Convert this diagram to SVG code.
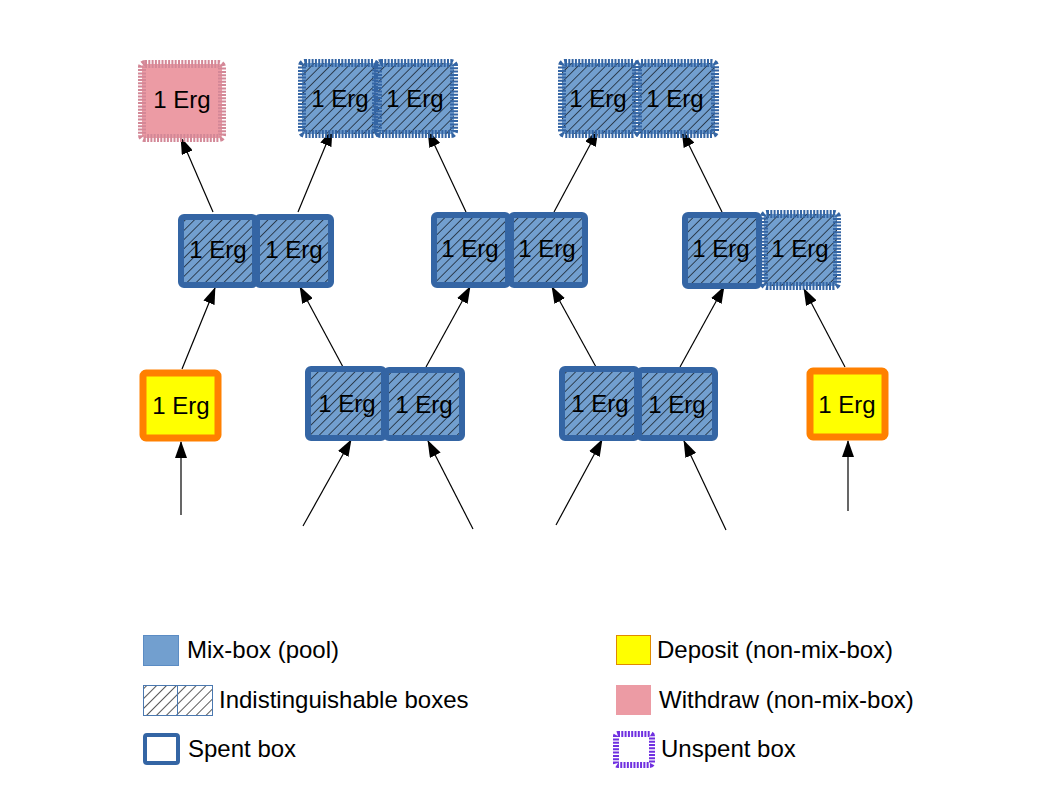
<svg xmlns="http://www.w3.org/2000/svg" width="1058" height="794" viewBox="0 0 1058 794">
<style>
.t{font-family:"Liberation Sans",Arial,sans-serif;font-size:24px;fill:#000;text-anchor:middle}
.lt{font-family:"Liberation Sans",Arial,sans-serif;font-size:24px;fill:#000}
.spent{stroke:#3465a4;stroke-width:6;fill:url(#hatch)}
.unsp{stroke:#3465a4;stroke-width:8;stroke-dasharray:2 1.3;fill:url(#hatch)}
.wd{stroke:#d38897;stroke-width:8;stroke-dasharray:2 1.3;fill:#ec9ba4}
.dep{stroke:#ff8000;stroke-width:7;fill:#ffff00}
.c line{stroke:#000;stroke-width:1.2;marker-end:url(#ah)}
</style>
<defs>
<pattern id="hl" width="7" height="7" patternUnits="userSpaceOnUse" patternTransform="rotate(45)">
<line x1="0" y1="0" x2="0" y2="7" stroke="#000" stroke-width="1.3"/>
</pattern>
<pattern id="hatch" width="6.5" height="6.5" patternUnits="userSpaceOnUse" patternTransform="rotate(45)">
<rect width="6.5" height="6.5" fill="#729fcf"/>
<line x1="0" y1="0" x2="0" y2="6.5" stroke="#000" stroke-width="1.2"/>
</pattern>
<marker id="ah" markerWidth="17" markerHeight="12" refX="16" refY="6" orient="auto" markerUnits="userSpaceOnUse">
<path d="M0,0 L17,6 L0,12 z" fill="#000"/>
</marker>
</defs>
<rect width="1058" height="794" fill="#fff"/>

<g class="c" id="connectors">
<line x1="213" y1="212" x2="181" y2="138"/>
<line x1="298" y1="212" x2="332" y2="130"/>
<line x1="466" y1="212" x2="428" y2="131"/>
<line x1="554" y1="212" x2="598" y2="130"/>
<line x1="722" y1="212" x2="682" y2="131"/>
<line x1="182" y1="369" x2="215" y2="288"/>
<line x1="343" y1="367" x2="300" y2="287"/>
<line x1="426" y1="367" x2="470" y2="287"/>
<line x1="596" y1="367" x2="552" y2="287"/>
<line x1="680" y1="367" x2="724" y2="287"/>
<line x1="845" y1="367" x2="804" y2="289"/>
<line x1="181" y1="515" x2="181" y2="442"/>
<line x1="303" y1="526" x2="351" y2="440"/>
<line x1="473" y1="529" x2="428" y2="441"/>
<line x1="556" y1="525" x2="602" y2="440"/>
<line x1="726" y1="530" x2="684" y2="441"/>
<line x1="848" y1="511" x2="848" y2="441"/>
</g>

<g id="w1"><rect class="wd" x="142" y="64" width="80" height="74" rx="3"/><text class="t" x="182" y="108">1 Erg</text></g>
<g id="t1"><rect class="unsp" x="302" y="63" width="74" height="71" rx="3"/><text class="t" x="340" y="107">1 Erg</text></g>
<g id="t2"><rect class="unsp" x="378" y="63" width="76" height="71" rx="3"/><text class="t" x="415" y="107">1 Erg</text></g>
<g id="t3"><rect class="unsp" x="562" y="63" width="74" height="71" rx="3"/><text class="t" x="598" y="107">1 Erg</text></g>
<g id="t4"><rect class="unsp" x="638" y="63" width="77" height="71" rx="3"/><text class="t" x="675" y="107">1 Erg</text></g>

<g id="m1"><rect class="spent" x="181" y="217" width="74" height="68" rx="3"/><text class="t" x="218" y="258">1 Erg</text></g>
<g id="m2"><rect class="spent" x="257" y="217" width="74" height="68" rx="3"/><text class="t" x="294" y="258">1 Erg</text></g>
<g id="m3"><rect class="spent" x="434" y="215" width="74" height="70" rx="3"/><text class="t" x="470" y="257">1 Erg</text></g>
<g id="m4"><rect class="spent" x="511" y="215" width="74" height="70" rx="3"/><text class="t" x="547" y="257">1 Erg</text></g>
<g id="m6"><rect class="unsp" x="764" y="214" width="73" height="72" rx="3"/><text class="t" x="800" y="257">1 Erg</text></g>
<g id="m5"><rect class="spent" x="685" y="215" width="74" height="71" rx="3"/><text class="t" x="721" y="257">1 Erg</text></g>

<g id="d1"><rect class="dep" x="143" y="373" width="75" height="65" rx="3"/><text class="t" x="181" y="414">1 Erg</text></g>
<g id="b1"><rect class="spent" x="308" y="369" width="76" height="69" rx="3"/><text class="t" x="347" y="412">1 Erg</text></g>
<g id="b2"><rect class="spent" x="386" y="370" width="76" height="68" rx="3"/><text class="t" x="424" y="413">1 Erg</text></g>
<g id="b3"><rect class="spent" x="562" y="369" width="75" height="69" rx="3"/><text class="t" x="600" y="412">1 Erg</text></g>
<g id="b4"><rect class="spent" x="639" y="370" width="76" height="68" rx="3"/><text class="t" x="677" y="413">1 Erg</text></g>
<g id="d2"><rect class="dep" x="810" y="371" width="75" height="66" rx="3"/><text class="t" x="847" y="413">1 Erg</text></g>

<g id="legend">
<g id="lg-mix"><rect x="143.5" y="635.5" width="35" height="30" fill="#729fcf" stroke="#5b8cc4" stroke-width="1"/><text class="lt" x="187" y="658">Mix-box (pool)</text></g>
<g id="lg-ind"><rect x="143.5" y="685.5" width="34" height="30" fill="url(#hl)" stroke="#4a78b0" stroke-width="1"/><rect x="177.5" y="685.5" width="35" height="30" fill="url(#hl)" stroke="#4a78b0" stroke-width="1"/><text class="lt" x="219" y="708">Indistinguishable boxes</text></g>
<g id="lg-spent"><rect x="145" y="735" width="33" height="28" rx="2" fill="#fff" stroke="#3465a4" stroke-width="4"/><text class="lt" x="188" y="757">Spent box</text></g>
<g id="lg-dep"><rect x="616.5" y="635.5" width="34" height="29" fill="#ffff00" stroke="#e08a00" stroke-width="1"/><text class="lt" x="657" y="658">Deposit (non-mix-box)</text></g>
<g id="lg-wd"><rect x="616" y="685" width="35" height="30" fill="#ec9ba4"/><text class="lt" x="659" y="708">Withdraw (non-mix-box)</text></g>
<g id="lg-un"><rect x="616" y="734" width="36" height="31" rx="2" fill="#fff" stroke="#7030e0" stroke-width="6" stroke-dasharray="2 1.3"/><text class="lt" x="661" y="757">Unspent box</text></g>
</g>
</svg>
